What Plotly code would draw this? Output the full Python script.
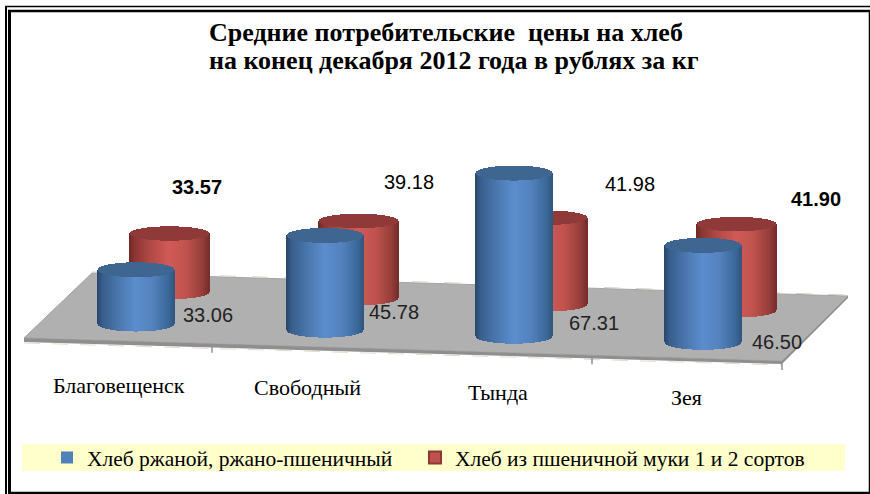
import numpy as np
import plotly.graph_objects as go

# ---------- data ----------
categories = ["Благовещенск", "Свободный", "Тында", "Зея"]
series_names = ["Хлеб ржаной, ржано-пшеничный", "Хлеб из пшеничной муки 1 и 2 сортов"]
rye_values = [33.06, 45.78, 67.31, 46.50]
wheat_values = [33.57, 39.18, 41.98, 41.90]
title_lines = ["Средние потребительские  цены на хлеб", "на конец декабря 2012 года в рублях за кг"]

# ---------- projection (oblique 3-D look) ----------
W, H = 870, 494
BASE_VALUE = 16.0
STEP_X, STEP_Y = 189.0, 6.1
ORIGIN = {0: (136.5, 324.0), 1: (170.0, 292.0)}
UNITS = {0: 3.18, 1: 3.33}
RX = {0: 38.0, 1: 39.5}
RY = {0: 7.5, 1: 7.2}
RAMPS = {
    0: [(0.0, (42, 72, 110)), (0.07, (56, 94, 140)), (0.25, (72, 116, 170)), (0.5, (91, 141, 205)),
        (0.72, (84, 130, 190)), (0.92, (60, 106, 156)), (1.0, (50, 88, 130))],
    1: [(0.0, (112, 40, 38)), (0.07, (140, 54, 52)), (0.25, (176, 72, 68)), (0.5, (208, 90, 87)),
        (0.72, (192, 82, 78)), (0.92, (150, 62, 58)), (1.0, (120, 46, 44))],
}
CAP = {0: "#3e6691", 1: "#8f3a38"}
SWATCH = {0: "#4f81bd", 1: "#c0504d"}


def ramp(t, stops):
    for (a, ca), (b, cb) in zip(stops, stops[1:]):
        if t <= b:
            f = (t - a) / (b - a)
            c = [int(round(x + (y - x) * f)) for x, y in zip(ca, cb)]
            return "rgb(%d,%d,%d)" % tuple(c)
    return "rgb(%d,%d,%d)" % stops[-1][1]


def cylinder(i, s, value):
    ox, oy = ORIGIN[s]
    cx, base_y = ox + STEP_X * i, oy + STEP_Y * i
    top_y = base_y - (value - BASE_VALUE) * UNITS[s]
    rx, ry = RX[s], RY[s]
    xs = np.arange(np.floor(cx - rx), np.ceil(cx + rx)) + 0.5
    t = np.clip((xs - cx) / rx, -1, 1)
    arc = ry * np.sqrt(1 - t ** 2)
    colors = [ramp((v + 1) / 2, RAMPS[s]) for v in t]
    body = go.Bar(x=xs, base=top_y, y=base_y + arc - top_y, width=1.02,
                  marker=dict(color=colors, line=dict(width=0)), showlegend=False, hoverinfo="skip")
    cap = go.Bar(x=xs, base=top_y - arc, y=2 * arc, width=1.02,
                 marker=dict(color=CAP[s], line=dict(width=0)), showlegend=False, hoverinfo="skip")
    return [body, cap]


fig = go.Figure()
# back row first, so the front row hides it
for i, v in enumerate(wheat_values):
    fig.add_traces(cylinder(i, 1, v))
for i, v in enumerate(rye_values):
    fig.add_traces(cylinder(i, 0, v))

# legend proxies
fig.add_trace(go.Bar(x=[None], y=[None], name=series_names[0], legend="legend",
                     marker=dict(color=SWATCH[0], line=dict(width=0))))
fig.add_trace(go.Bar(x=[None], y=[None], name=series_names[1], legend="legend2",
                     marker=dict(color=SWATCH[1], line=dict(width=2, color="#8c3836"))))

# ---------- static decoration ----------
shapes = [
    # floor
    dict(type="path", layer="below", path="M92,273 L848,296 L782,361 L24,338 Z",
         fillcolor="#b0b0b0", line=dict(color="#a4a4a4", width=1)),
    dict(type="path", layer="below", path="M24,338 L782,361 L782,364 L24,342 Z",
         fillcolor="#8f8f8f", line=dict(width=0)),
    dict(type="path", layer="below", path="M782,361 L848,296 L848,298 L782,364 Z",
         fillcolor="#8f8f8f", line=dict(width=0)),
    dict(type="line", layer="below", x0=24, y0=343, x1=782, y1=365,
         line=dict(color="#e4dccb", width=1, dash="16px 12px")),
    dict(type="line", layer="below", x0=92, y0=272, x1=848, y1=295,
         line=dict(color="#d8d0c0", width=1, dash="16px 16px")),
    # legend band
    dict(type="rect", layer="below", x0=22, x1=845, y0=444, y1=471,
         fillcolor="#ffffcc", line=dict(width=0)),
]
for x in [212, 592, 782]:
    y = 340 + (x - 24) * 0.0303
    shapes.append(dict(type="line", layer="below", x0=x, x1=x, y0=y, y1=y + 7,
                       line=dict(color="#8f8f8f", width=1.5)))


def frame_line(x0, y0, x1, y1, width):
    shapes.append(dict(type="line", layer="below", x0=x0, y0=y0, x1=x1, y1=y1,
                       line=dict(color="#000", width=width)))


# double frame: thin outer, heavy inner
frame_line(6, 6, 6, H, 2)
frame_line(5, 6.5, W, 6.5, 1.5)
frame_line(9.5, 10, 9.5, H, 3)
frame_line(8, 11, W, 11, 2.5)
frame_line(8, 493, W, 493, 2.5)
frame_line(869.5, 10, 869.5, H, 1.5)

SERIF = "Liberation Serif"
SANS = "Liberation Sans"
annotations = []
# title
for text, x, y in zip(title_lines, [445.5, 453.5], [32, 60]):
    annotations.append(dict(x=x, y=y, text="<b>%s</b>" % text, showarrow=False,
                            font=dict(family=SERIF, size=26, color="#000")))
# value labels
rye_label_xy = [(208, 315), (394, 312), (594, 323), (777, 342)]
wheat_label_xy = [(197, 187), (409, 182), (630, 184), (816, 199)]
wheat_label_bold = [True, False, False, True]
for v, (x, y) in zip(rye_values, rye_label_xy):
    annotations.append(dict(x=x, y=y, text="%.2f" % v, showarrow=False,
                            font=dict(family=SANS, size=20, color="#222")))
for v, (x, y), b in zip(wheat_values, wheat_label_xy, wheat_label_bold):
    annotations.append(dict(x=x, y=y, text=("<b>%.2f</b>" if b else "%.2f") % v, showarrow=False,
                            font=dict(family=SANS, size=20, color="#000")))
# category labels
category_xy = [(119, 385), (307, 387), (497.5, 392), (686, 397)]
for c, (x, y) in zip(categories, category_xy):
    annotations.append(dict(x=x, y=y, text=c, showarrow=False,
                            font=dict(family=SERIF, size=22, color="#000")))

legend_style = dict(orientation="h", yanchor="middle", xanchor="left", y=1 - 457.5 / H,
                    bgcolor="rgba(0,0,0,0)", font=dict(family=SERIF, size=21.5, color="#000"),
                    itemclick=False, itemdoubleclick=False)

fig.update_layout(
    width=W, height=H, margin=dict(l=0, r=0, t=0, b=0),
    paper_bgcolor="white", plot_bgcolor="white",
    barmode="overlay", bargap=0,
    xaxis=dict(range=[0, W], visible=False, fixedrange=True),
    yaxis=dict(range=[H, 0], visible=False, fixedrange=True),
    shapes=shapes, annotations=annotations,
    legend=dict(x=47 / W, **legend_style),
    legend2=dict(x=415 / W, **legend_style),
)

fig.write_html("out.html", post_script="document.body.style.margin='0';",
               config={"displayModeBar": False})
